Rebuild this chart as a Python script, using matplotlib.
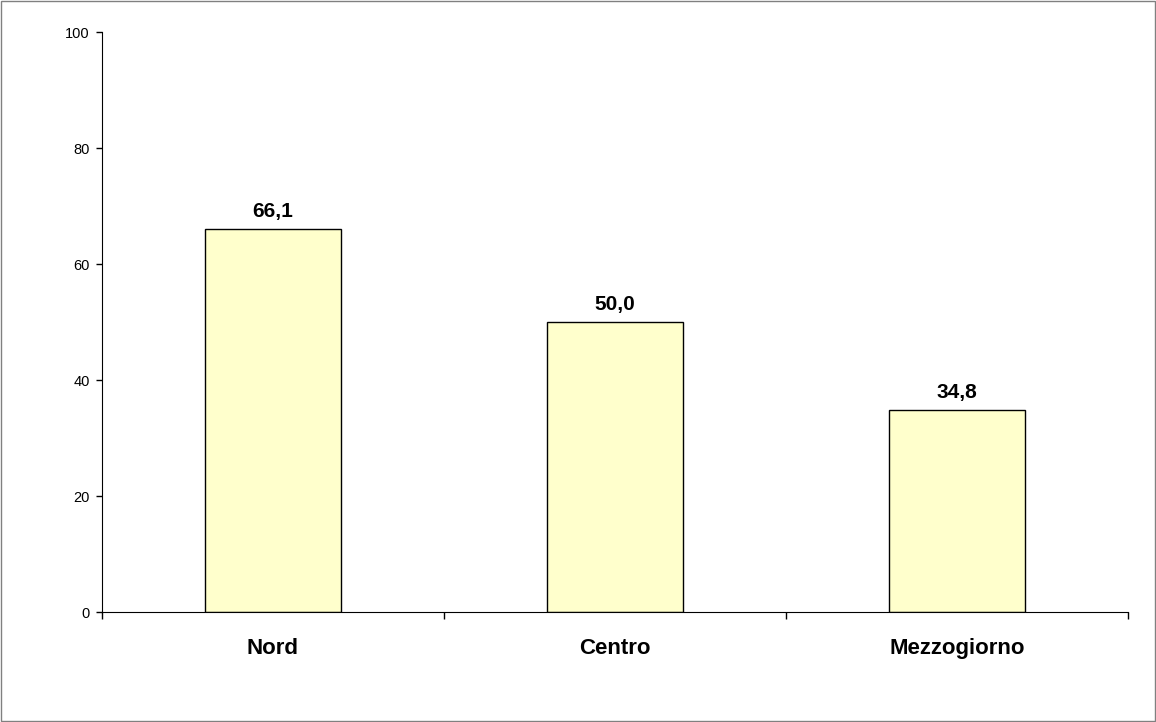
import matplotlib
matplotlib.use('Agg')
from matplotlib import pyplot as plt
from matplotlib.patches import Rectangle

categories = ['Nord', 'Centro', 'Mezzogiorno']
values = [66.1, 50.0, 34.8]
yticks = [0, 20, 40, 60, 80, 100]

plt.rcParams['font.family'] = ['Liberation Sans', 'DejaVu Sans']

fig = plt.figure(figsize=(11.56, 7.22), dpi=100)
ax = fig.add_axes([102 / 1156, 1 - 612 / 722, 1026 / 1156, 580 / 722])

x = range(len(categories))
ax.bar(x, values, width=0.4, color='#FFFFCC', edgecolor='black', linewidth=1)

for xi, v in zip(x, values):
    ax.annotate(f'{v:.1f}'.replace('.', ','), (xi, v), xytext=(0, 8.5),
                textcoords='offset points', ha='center', va='baseline',
                fontsize=15, fontweight='bold')

ax.set_xlim(-0.5, len(categories) - 0.5)
ax.set_ylim(0, 100)
ax.set_yticks(yticks)
ax.set_yticklabels([str(t) for t in yticks], fontsize=10.5)
ax.tick_params(axis='y', direction='out', length=4, width=1, pad=5)

ax.set_xticks([i - 0.5 for i in range(len(categories) + 1)])
ax.set_xticklabels([])
ax.tick_params(axis='x', direction='out', length=5, width=1)
ax.set_xticks(list(x), minor=True)
ax.set_xticklabels(categories, minor=True, fontsize=16, fontweight='bold')
ax.tick_params(axis='x', which='minor', length=0, pad=19)

ax.spines['top'].set_visible(False)
ax.spines['right'].set_visible(False)

# cornice esterna del grafico
fig.patches.append(Rectangle((0.001, 0.001), 0.998, 0.997, transform=fig.transFigure,
                             fill=False, edgecolor='#808080', linewidth=1))

fig.savefig('out.png', dpi=100)
